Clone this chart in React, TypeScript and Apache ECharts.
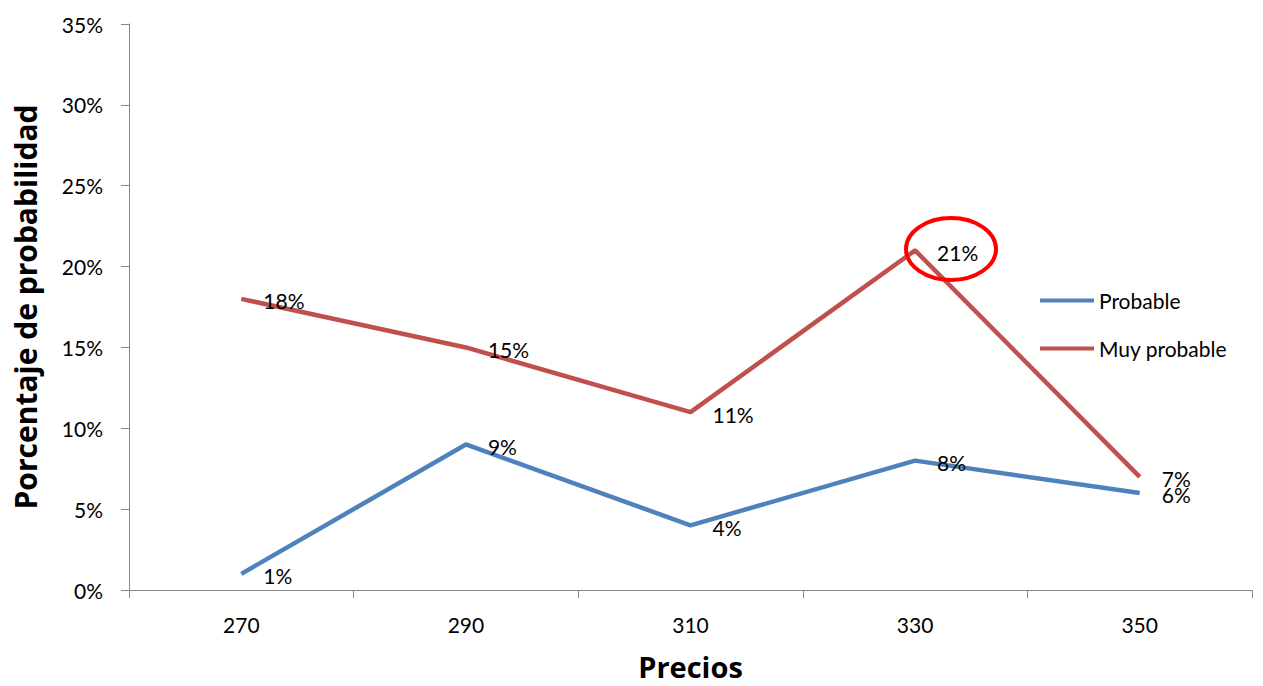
import React, { useEffect, useRef } from "react";
import * as echarts from "echarts";

const categories = ["270", "290", "310", "330", "350"];
const probable = [1, 9, 4, 8, 6];
const muyProbable = [18, 15, 11, 21, 7];
const seriesNames = ["Probable", "Muy probable"];
const xTitle = "Precios";
const yTitle = "Porcentaje de probabilidad";

const FONT = "Lato, 'Open Sans', sans-serif";
const TITLE_FONT = "'Open Sans', sans-serif";

export default function App() {
  const ref = useRef<HTMLDivElement>(null);
  useEffect(() => {
    const chart = echarts.init(ref.current!, null, { renderer: "svg" });
    const label = {
      show: true,
      position: "right",
      distance: 22,
      offset: [0, 2],
      formatter: (p: any) => p.value + "%",
      color: "#000",
      fontSize: 21,
      fontFamily: FONT,
    };
    chart.setOption({
      animation: false,
      textStyle: { fontFamily: FONT },
      grid: { left: 129, right: 11, top: 24, bottom: 95 },
      legend: {
        orient: "vertical",
        left: 1040,
        top: 290,
        padding: 0,
        itemWidth: 54,
        itemHeight: 14,
        itemGap: 27,
        icon: "path://M0,5 L54,5 L54,9 L0,9 Z",
        textStyle: { fontSize: 21, color: "#000", fontFamily: FONT, padding: [0, 0, 0, 0] },
        data: [
          { name: seriesNames[0], itemStyle: { color: "#4F81BD", opacity: 1 } },
          { name: seriesNames[1], itemStyle: { color: "#C0504D", opacity: 1 } },
        ],
      },
      xAxis: {
        type: "category",
        data: categories,
        boundaryGap: true,
        name: xTitle,
        nameLocation: "middle",
        nameGap: 62,
        nameTextStyle: { fontSize: 29, fontWeight: "bold", color: "#000", fontFamily: TITLE_FONT },
        axisLine: { lineStyle: { color: "#868686", width: 1 } },
        axisTick: { show: true, length: 8, lineStyle: { color: "#868686" } },
        axisLabel: { color: "#000", fontSize: 21, margin: 24, fontFamily: FONT },
        splitLine: { show: false },
      },
      yAxis: {
        type: "value",
        min: 0,
        max: 35,
        interval: 5,
        name: yTitle,
        nameLocation: "middle",
        nameGap: 89,
        nameTextStyle: { fontSize: 30, fontWeight: "bold", color: "#000", fontFamily: TITLE_FONT },
        axisLine: { show: true, lineStyle: { color: "#868686", width: 1 } },
        axisTick: { show: true, length: 8, lineStyle: { color: "#868686" } },
        axisLabel: { color: "#000", fontSize: 21, margin: 26, formatter: "{value}%", fontFamily: FONT },
        splitLine: { show: false },
      },
      series: [
        {
          name: seriesNames[0],
          type: "line",
          data: probable,
          symbol: "circle",
          symbolSize: 0,
          showSymbol: true,
          itemStyle: { color: "#4F81BD" },
          lineStyle: { color: "#4F81BD", width: 4.5 },
          label,
          z: 3,
        },
        {
          name: seriesNames[1],
          type: "line",
          data: muyProbable,
          symbol: "circle",
          symbolSize: 0,
          showSymbol: true,
          itemStyle: { color: "#C0504D" },
          lineStyle: { color: "#C0504D", width: 4.5 },
          label,
          z: 2,
        },
      ],
      graphic: [
        {
          type: "ellipse",
          shape: { cx: 951, cy: 249, rx: 45, ry: 31 },
          style: { fill: "none", stroke: "#FF0000", lineWidth: 4 },
          z: 10,
        },
      ],
    });
    return () => chart.dispose();
  }, []);
  return <div ref={ref} style={{ width: 1263, height: 686, position: "absolute", left: 0, top: 0 }} />;
}
